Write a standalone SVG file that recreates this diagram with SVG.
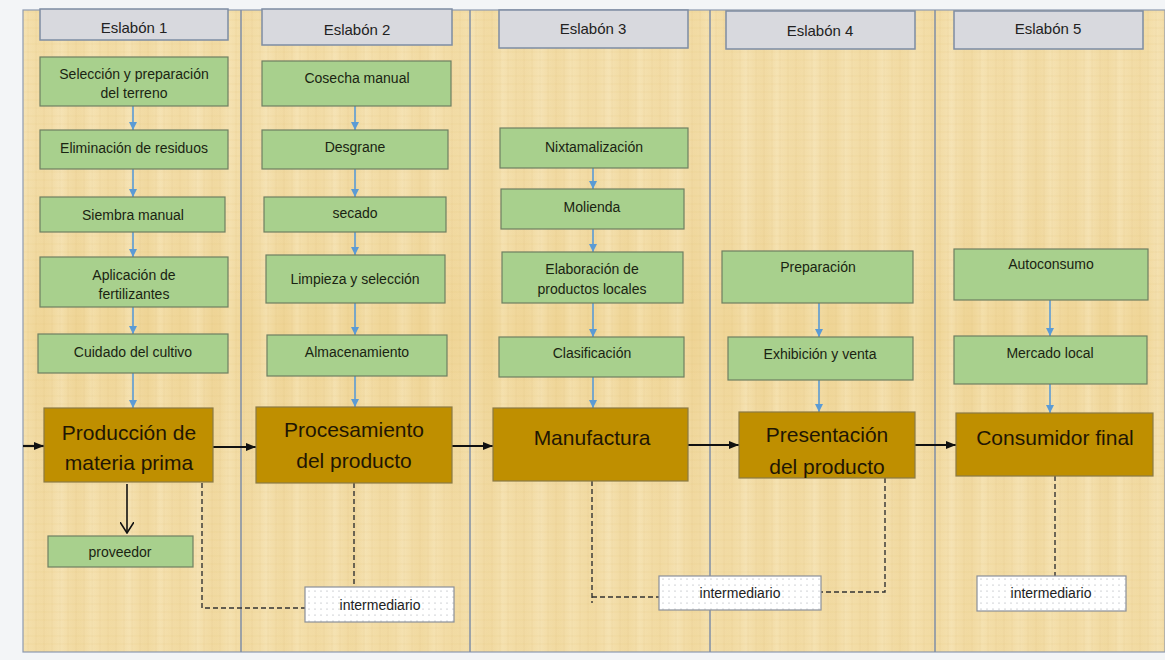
<svg xmlns="http://www.w3.org/2000/svg" width="1165" height="660" viewBox="0 0 1165 660">
<style>
  text { font-family: "Liberation Sans", Arial, sans-serif; text-anchor: middle; dominant-baseline: central; }
  .hdr rect { fill: #d8d9de; stroke: #7d8ca3; stroke-width: 1.5; }
  .hdr text { font-size: 15px; fill: #222; }
  .g rect { fill: #a8d08d; stroke: #6e7f62; stroke-width: 1.2; }
  .g text { font-size: 14px; fill: #1a2412; }
  .b rect { fill: #bf8f00; stroke: #8b7a45; stroke-width: 1.2; }
  .b text { font-size: 21px; fill: #1f1604; }
  .im rect { fill: url(#dots); stroke: #8a8f99; stroke-width: 1.2; }
  .im text { font-size: 14px; fill: #222; }
  .blue { stroke: #5b9bd5; stroke-width: 1.6; fill: none; marker-end: url(#ab); }
  .blk { stroke: #111; stroke-width: 2.2; fill: none; marker-end: url(#ak); }
  .dash { stroke: #333; stroke-width: 1.4; fill: none; stroke-dasharray: 5 3; }
  .div { stroke: #7f8ea6; stroke-width: 1.5; }
</style>
<defs>
  <marker id="ab" viewBox="0 0 10 10" refX="10" refY="5" markerWidth="8" markerHeight="9" orient="auto" markerUnits="userSpaceOnUse">
    <path d="M0,0 L10,5 L0,10 z" fill="#5b9bd5"/>
  </marker>
  <marker id="ak" viewBox="0 0 10 10" refX="10" refY="5" markerWidth="10" markerHeight="10" orient="auto" markerUnits="userSpaceOnUse">
    <path d="M0,1 L10,5 L0,9 z" fill="#111"/>
  </marker>
  <marker id="av" viewBox="0 0 12 14" refX="11" refY="7" markerWidth="12" markerHeight="14" orient="auto" markerUnits="userSpaceOnUse">
    <path d="M0,0 L11,7 L0,14" fill="none" stroke="#111" stroke-width="1.6"/>
  </marker>
  <pattern id="dots" width="6" height="6" patternUnits="userSpaceOnUse">
    <rect width="6" height="6" fill="#ffffff"/>
    <circle cx="3" cy="3" r="0.6" fill="#9aa0a8"/>
  </pattern>
  <pattern id="canvas" width="8" height="8" patternUnits="userSpaceOnUse">
    <path d="M0,4 H8" stroke="#d9b56a" stroke-width="0.6" opacity="0.25"/>
    <path d="M4,0 V8" stroke="#d9b56a" stroke-width="0.6" opacity="0.2"/>
  </pattern>
  <linearGradient id="streak" x1="0" y1="0" x2="0.06" y2="0" spreadMethod="repeat">
    <stop offset="0" stop-color="#f7e6b8" stop-opacity="0.55"/>
    <stop offset="0.3" stop-color="#ecd08e" stop-opacity="0.15"/>
    <stop offset="0.55" stop-color="#f8e9c0" stop-opacity="0.5"/>
    <stop offset="0.8" stop-color="#e9cb85" stop-opacity="0.2"/>
    <stop offset="1" stop-color="#f7e6b8" stop-opacity="0.55"/>
  </linearGradient>
  <linearGradient id="streakv" x1="0" y1="0" x2="0" y2="1">
    <stop offset="0" stop-color="#f7e7bd" stop-opacity="0.35"/>
    <stop offset="0.5" stop-color="#ffffff" stop-opacity="0"/>
    <stop offset="1" stop-color="#f7e7bd" stop-opacity="0.3"/>
  </linearGradient>
</defs>

<rect width="1165" height="660" fill="#f3f5f7"/>

<g id="background">
  <rect x="23" y="10" width="1142" height="642" fill="#f0d698"/>
  <rect x="23" y="10" width="1142" height="642" fill="url(#streak)"/>
  <rect x="23" y="10" width="1142" height="642" fill="url(#streakv)"/>
  <rect x="23" y="10" width="1142" height="642" fill="url(#canvas)"/>
  <rect x="23" y="10" width="1142" height="642" fill="none" stroke="#8e9ab0" stroke-width="1.2"/>
  <line class="div" x1="241" y1="10" x2="241" y2="652"/>
  <line class="div" x1="470" y1="10" x2="470" y2="652"/>
  <line class="div" x1="710" y1="10" x2="710" y2="652"/>
  <line class="div" x1="935" y1="10" x2="935" y2="652"/>
</g>

<g id="headers">
  <g id="h1" class="hdr"><rect x="40" y="9" width="188" height="31"/><text x="134" y="27">Eslabón 1</text></g>
  <g id="h2" class="hdr"><rect x="262" y="9" width="190" height="36"/><text x="357" y="29">Eslabón 2</text></g>
  <g id="h3" class="hdr"><rect x="499" y="10" width="189" height="38"/><text x="593" y="28">Eslabón 3</text></g>
  <g id="h4" class="hdr"><rect x="726" y="11" width="189" height="38"/><text x="820" y="30">Eslabón 4</text></g>
  <g id="h5" class="hdr"><rect x="954" y="11" width="189" height="38"/><text x="1048" y="28">Eslabón 5</text></g>
</g>

<g id="connectors">
  <line class="blue" x1="133" y1="106" x2="133" y2="130"/>
  <line class="blue" x1="133" y1="169" x2="133" y2="197"/>
  <line class="blue" x1="133" y1="232" x2="133" y2="257"/>
  <line class="blue" x1="133" y1="307" x2="133" y2="334"/>
  <line class="blue" x1="133" y1="373" x2="133" y2="408"/>
  <line class="blue" x1="355" y1="106" x2="355" y2="130"/>
  <line class="blue" x1="355" y1="169" x2="355" y2="197"/>
  <line class="blue" x1="355" y1="232" x2="355" y2="255"/>
  <line class="blue" x1="355" y1="303" x2="355" y2="335"/>
  <line class="blue" x1="355" y1="376" x2="355" y2="407"/>
  <line class="blue" x1="593" y1="168" x2="593" y2="189"/>
  <line class="blue" x1="593" y1="229" x2="593" y2="252"/>
  <line class="blue" x1="593" y1="303" x2="593" y2="337"/>
  <line class="blue" x1="593" y1="377" x2="593" y2="408"/>
  <line class="blue" x1="819" y1="303" x2="819" y2="337"/>
  <line class="blue" x1="819" y1="380" x2="819" y2="412"/>
  <line class="blue" x1="1050" y1="300" x2="1050" y2="336"/>
  <line class="blue" x1="1050" y1="384" x2="1050" y2="413"/>
  <line class="blk" x1="23" y1="446" x2="44" y2="446"/>
  <line class="blk" x1="213" y1="447" x2="256" y2="447"/>
  <line class="blk" x1="452" y1="446" x2="493" y2="446"/>
  <line class="blk" x1="688" y1="445" x2="739" y2="445"/>
  <line class="blk" x1="915" y1="445" x2="956" y2="445"/>
  <line x1="127" y1="484" x2="127" y2="533" stroke="#111" stroke-width="1.6" marker-end="url(#av)"/>
  <polyline class="dash" points="202,483 202,608 305,608"/>
  <line class="dash" x1="354" y1="483" x2="354" y2="587"/>
  <polyline class="dash" points="592,481 592,603"/>
  <line class="dash" x1="592" y1="597" x2="659" y2="597"/>
  <polyline class="dash" points="885,478 885,592 821,592"/>
  <line class="dash" x1="1055" y1="476" x2="1055" y2="576"/>
</g>

<g id="n-seleccion" class="g"><rect x="40" y="57" width="188" height="49"/><text x="134" y="74">Selección y preparación</text><text x="134" y="93">del terreno</text></g>
<g id="n-eliminacion" class="g"><rect x="40" y="130" width="188" height="39"/><text x="134" y="148">Eliminación de residuos</text></g>
<g id="n-siembra" class="g"><rect x="40" y="197" width="185" height="35"/><text x="133" y="215">Siembra manual</text></g>
<g id="n-aplicacion" class="g"><rect x="40" y="257" width="188" height="50"/><text x="134" y="275">Aplicación de</text><text x="134" y="294">fertilizantes</text></g>
<g id="n-cuidado" class="g"><rect x="38" y="334" width="190" height="39"/><text x="133" y="352">Cuidado del cultivo</text></g>

<g id="n-cosecha" class="g"><rect x="262" y="61" width="189" height="45"/><text x="357" y="78">Cosecha manual</text></g>
<g id="n-desgrane" class="g"><rect x="262" y="130" width="186" height="39"/><text x="355" y="147">Desgrane</text></g>
<g id="n-secado" class="g"><rect x="264" y="197" width="182" height="35"/><text x="355" y="213">secado</text></g>
<g id="n-limpieza" class="g"><rect x="266" y="255" width="179" height="48"/><text x="355" y="279">Limpieza y selección</text></g>
<g id="n-almacenamiento" class="g"><rect x="267" y="335" width="180" height="41"/><text x="357" y="352">Almacenamiento</text></g>

<g id="n-nixtamalizacion" class="g"><rect x="500" y="128" width="188" height="40"/><text x="594" y="147">Nixtamalización</text></g>
<g id="n-molienda" class="g"><rect x="501" y="189" width="183" height="40"/><text x="592" y="207">Molienda</text></g>
<g id="n-elaboracion" class="g"><rect x="502" y="252" width="181" height="51"/><text x="592" y="269">Elaboración de</text><text x="592" y="289">productos locales</text></g>
<g id="n-clasificacion" class="g"><rect x="499" y="337" width="185" height="40"/><text x="592" y="353">Clasificación</text></g>

<g id="n-preparacion" class="g"><rect x="722" y="251" width="191" height="52"/><text x="818" y="267">Preparación</text></g>
<g id="n-exhibicion" class="g"><rect x="728" y="337" width="185" height="43"/><text x="820" y="354">Exhibición y venta</text></g>

<g id="n-autoconsumo" class="g"><rect x="954" y="249" width="194" height="51"/><text x="1051" y="264">Autoconsumo</text></g>
<g id="n-mercado" class="g"><rect x="954" y="336" width="193" height="48"/><text x="1050" y="353">Mercado local</text></g>

<g id="n-produccion" class="b"><rect x="44" y="408" width="169" height="74"/><text x="129" y="432">Producción de</text><text x="129" y="462">materia prima</text></g>
<g id="n-procesamiento" class="b"><rect x="256" y="407" width="196" height="76"/><text x="354" y="429">Procesamiento</text><text x="354" y="460">del producto</text></g>
<g id="n-manufactura" class="b"><rect x="493" y="408" width="195" height="73"/><text x="592" y="437">Manufactura</text></g>
<g id="n-presentacion" class="b"><rect x="739" y="412" width="176" height="66"/><text x="827" y="434">Presentación</text><text x="827" y="466">del producto</text></g>
<g id="n-consumidor" class="b"><rect x="956" y="413" width="197" height="63"/><text x="1055" y="437">Consumidor final</text></g>

<g id="n-proveedor" class="g"><rect x="48" y="536" width="145" height="31"/><text x="120" y="552">proveedor</text></g>

<g id="n-intermediario1" class="im"><rect x="305" y="587" width="149" height="35"/><text x="380" y="605">intermediario</text></g>
<g id="n-intermediario2" class="im"><rect x="659" y="576" width="162" height="34"/><text x="740" y="593">intermediario</text></g>
<g id="n-intermediario3" class="im"><rect x="977" y="576" width="149" height="35"/><text x="1051" y="593">intermediario</text></g>
</svg>
